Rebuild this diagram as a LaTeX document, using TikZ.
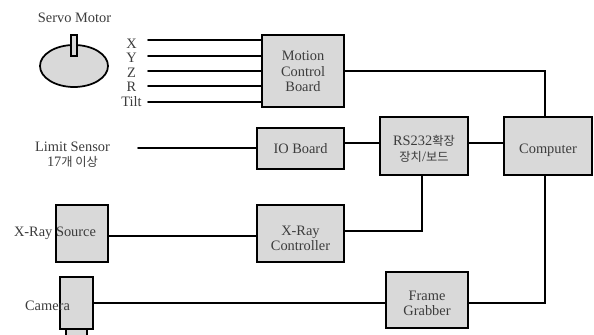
\documentclass[tikz,border=0pt]{standalone}
\usetikzlibrary{shapes.geometric}
\usepackage{fontspec}
\setmainfont{Liberation Serif}
\newfontfamily\krfont[Scale=0.85]{Noto Sans CJK KR}
\usepackage{xcolor}
\definecolor{boxgray}{HTML}{D9D9D9}
\definecolor{textgray}{HTML}{3C3C3C}
\renewcommand{\arraystretch}{1.07}
\newcommand{\blocktxt}[2]{\raisebox{-#1pt}[\height][\depth]{\begin{tabular}{@{}c@{}}#2\end{tabular}}}
\begin{document}
\begin{tikzpicture}[x=0.75pt,y=-0.75pt,font=\fontsize{10.8pt}{10.9pt}\selectfont,line cap=round,
  blockbox/.style={draw=black,fill=boxgray,line width=1.3pt,minimum width=0pt,inner sep=0pt,align=center,text=textgray},
  wire/.style={draw=black,line width=1.3pt},
  lbl/.style={text=textgray,inner sep=0pt,align=center}]
\useasboundingbox (0,0) rectangle (594,335);
% servo motor
\node[blockbox,shape=ellipse,minimum width=51pt,minimum height=31.5pt] (motor) at (74,66) {};
\node[blockbox,line width=1pt,minimum width=4.5pt,minimum height=15.8pt] (shaft) at (74,45.5) {};
\node[lbl] (motorlbl) at (74.5,18) {Servo Motor};
% blocks
\node[blockbox,minimum width=61.5pt,minimum height=54pt] (motion) at (303,71) {\blocktxt{1.6}{Motion\\Control\\Board}};
\node[blockbox,minimum width=65.2pt,minimum height=30.8pt] (ioboard) at (300.5,148.5) {\blocktxt{1.5}{IO Board}};
\node[blockbox,minimum width=66pt,minimum height=43.5pt] (rsboard) at (424,146) {\blocktxt{3.2}{RS232{\krfont 확장}\\{\krfont 장치}/{\krfont 보드}}};
\node[blockbox,minimum width=66pt,minimum height=43.5pt] (computer) at (548,146) {\blocktxt{3}{Computer}};
\node[blockbox,minimum width=65.2pt,minimum height=42.8pt] (xcontrol) at (300.5,233.5) {\blocktxt{4.8}{X-Ray\\Controller}};
\node[blockbox,minimum width=61.5pt,minimum height=42pt] (grabber) at (427,300) {\blocktxt{3.6}{Frame\\Grabber}};
\node[blockbox,minimum width=39pt,minimum height=42.8pt] (xsource) at (82,233.5) {};
\node[blockbox,minimum width=15.8pt,minimum height=12pt] (lens) at (76.5,337) {};
\node[blockbox,minimum width=24.8pt,minimum height=39pt] (camera) at (76.5,303) {};
% labels over the parts
\node[lbl] (xsourcelbl) at (55,233) {X-Ray Source};
\node[lbl] (cameralbl) at (47.5,306) {Camera};
\node[lbl] (limitlbl) at (72.5,154.5) {Limit Sensor\\17{\krfont 개 이상}};
\node[lbl] (xlbl) at (131.5,43.5) {X};
\node[lbl] (ylbl) at (131.5,58) {Y};
\node[lbl] (zlbl) at (131.5,72.5) {Z};
\node[lbl] (rlbl) at (131.5,87) {R};
\node[lbl] (tiltlbl) at (131.5,102) {Tilt};
% axis wires
\coordinate (xend) at (148,40);
\coordinate (yend) at (148,56);
\coordinate (zend) at (148,71);
\coordinate (rend) at (148,86);
\coordinate (tiltend) at (148,102);
\coordinate (limitend) at (138,148);
\draw[wire] (xend) -- (xend -| motion.west);
\draw[wire] (yend) -- (yend -| motion.west);
\draw[wire] (zend) -- (zend -| motion.west);
\draw[wire] (rend) -- (rend -| motion.west);
\draw[wire] (tiltend) -- (tiltend -| motion.west);
\draw[wire] (limitend) -- (limitend -| ioboard.west);
% links
\coordinate (iolink) at (362,143);
\coordinate (sourcelink) at (180,236);
\coordinate (ctrllink) at (422,231);
\coordinate (camlink) at (200,303);
\coordinate (comptap) at (545,71);
\draw[wire] (motion.east) -- (comptap) -- (comptap |- computer.north);
\draw[wire] (iolink -| ioboard.east) -- (iolink -| rsboard.west);
\draw[wire] (iolink -| rsboard.east) -- (iolink -| computer.west);
\draw[wire] (sourcelink -| xsource.east) -- (sourcelink -| xcontrol.west);
\draw[wire] (ctrllink -| xcontrol.east) -- (ctrllink) -- (ctrllink |- rsboard.south);
\draw[wire] (camlink -| camera.east) -- (camlink -| grabber.west);
\draw[wire] (camlink -| grabber.east) -- (camlink -| comptap) -- (comptap |- computer.south);
\end{tikzpicture}
\end{document}
